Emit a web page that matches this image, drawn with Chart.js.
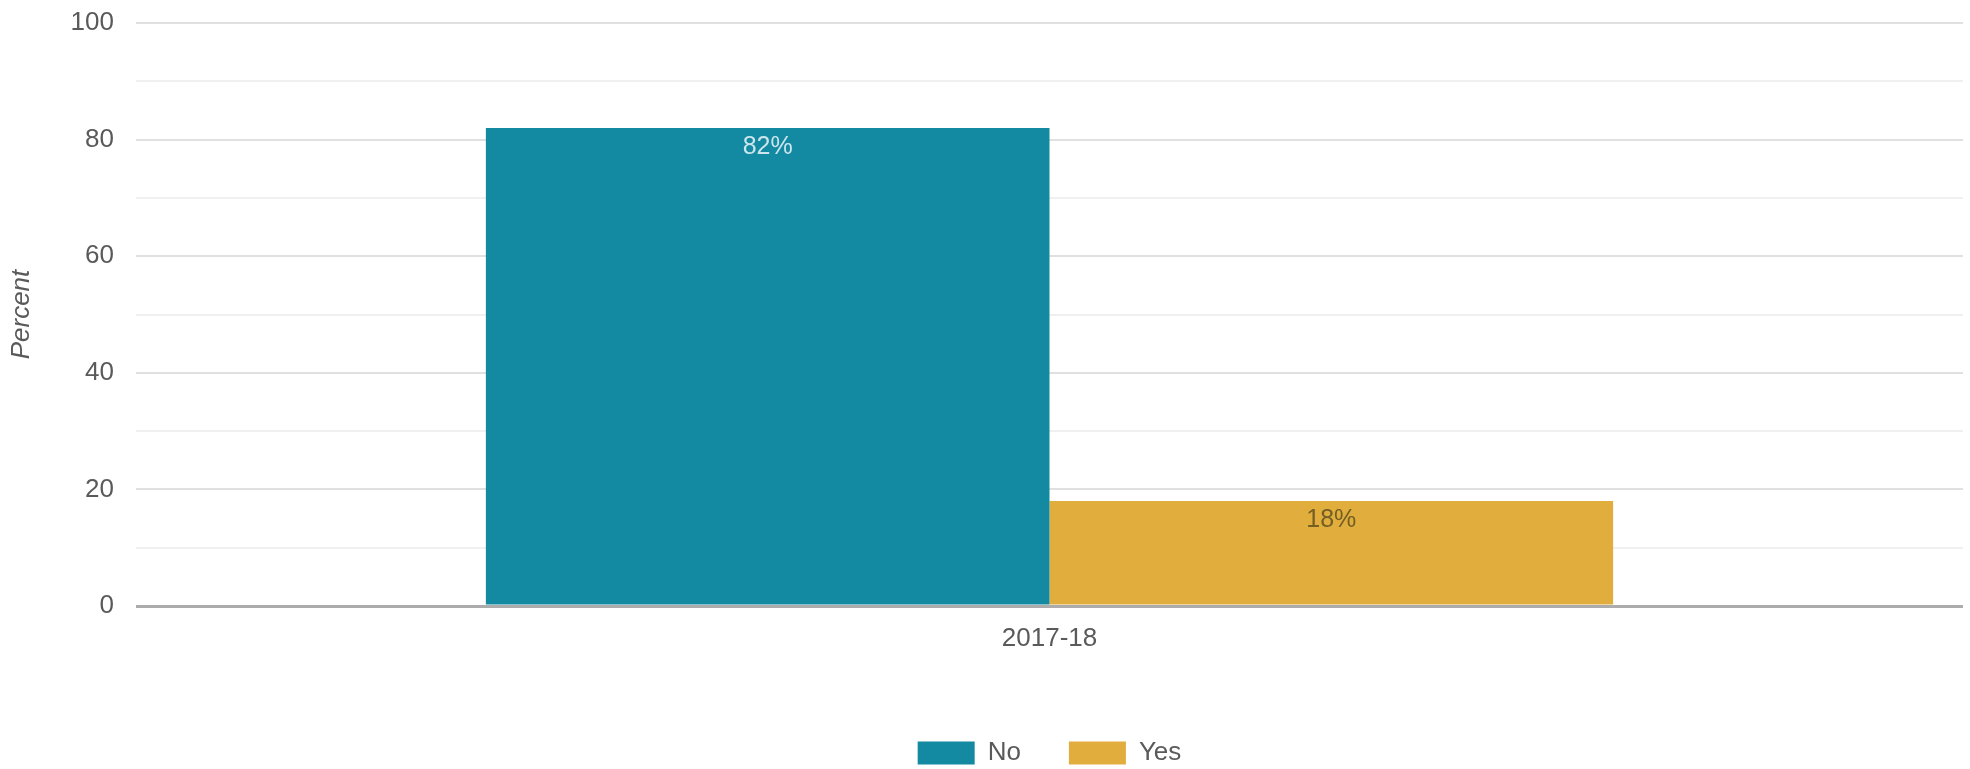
<!DOCTYPE html>
<html>
<head>
<meta charset="utf-8">
<script src="https://cdn.jsdelivr.net/npm/chart.js@4"></script>
<style>
  html, body { margin: 0; padding: 0; background: #fff; }
  #wrap { width: 1970px; height: 769px; }
</style>
</head>
<body>
<div id="wrap"><canvas id="chart"></canvas></div>
<script>
// Chart values
const categories = ['2017-18'];
const seriesNames = ['No', 'Yes'];
const noValues = [82];
const yesValues = [18];
const colors = ['#1389a2', '#e1ae3e'];
const labelColors = ['rgba(225,240,244,0.9)', 'rgba(95,80,30,0.85)'];

Chart.defaults.font.family = '"Liberation Sans", Arial, sans-serif';

// Draw the percent label near the top of each bar
const barLabels = {
    id: 'barLabels',
    afterDatasetsDraw(chart) {
        const ctx = chart.ctx;
        ctx.save();
        ctx.font = '25px "Liberation Sans", Arial, sans-serif';
        ctx.textAlign = 'center';
        ctx.textBaseline = 'middle';
        chart.data.datasets.forEach((ds, i) => {
            chart.getDatasetMeta(i).data.forEach((bar, j) => {
                ctx.fillStyle = labelColors[i];
                ctx.fillText(ds.data[j] + '%', bar.x, bar.y + 19);
            });
        });
        ctx.restore();
    }
};

const ctx = document.getElementById('chart').getContext('2d');
const chart = new Chart(ctx, {
    type: 'bar',
    data: {
        labels: categories,
        datasets: [
            { label: seriesNames[0], data: noValues, backgroundColor: colors[0] },
            { label: seriesNames[1], data: yesValues, backgroundColor: colors[1] }
        ]
    },
    options: {
        responsive: true,
        maintainAspectRatio: false,
        animation: false,
        layout: { padding: { top: 23, right: 7, bottom: -7, left: 0 } },
        datasets: {
            bar: { barPercentage: 1, categoryPercentage: 0.617 }
        },
        plugins: {
            tooltip: { enabled: false },
            legend: {
                position: 'bottom',
                fullSize: false,
                labels: {
                    boxWidth: 57,
                    boxHeight: 23,
                    padding: 48,
                    color: '#5a5a5a',
                    font: { size: 26 }
                }
            }
        },
        scales: {
            x: {
                afterFit: (scale) => { scale.height = 86; },
                grid: { display: false },
                border: { display: false },
                ticks: { color: '#5a5a5a', font: { size: 26 }, padding: 9 }
            },
            y: {
                min: 0,
                max: 100,
                afterFit: (scale) => {
                    scale.width = 136;
                    scale.paddingTop = 0;
                    scale.paddingBottom = 0;
                },
                border: { display: false },
                grid: {
                    drawTicks: false,
                    color: (c) => c.tick.value === 0 ? '#acacac' : (c.tick.value % 20 === 0 ? '#e0e0e0' : '#f0f0f0'),
                    lineWidth: (c) => c.tick.value === 0 ? 3 : 2
                },
                ticks: {
                    stepSize: 10,
                    autoSkip: false,
                    padding: 22,
                    color: '#5a5a5a',
                    font: { size: 26 },
                    callback: (v) => v % 20 === 0 ? v : ''
                },
                title: {
                    display: true,
                    text: 'Percent',
                    color: '#5a5a5a',
                    font: { size: 26, style: 'italic' },
                    padding: { top: 6, bottom: 0 }
                }
            }
        }
    },
    plugins: [barLabels]
});
</script>
</body>
</html>
